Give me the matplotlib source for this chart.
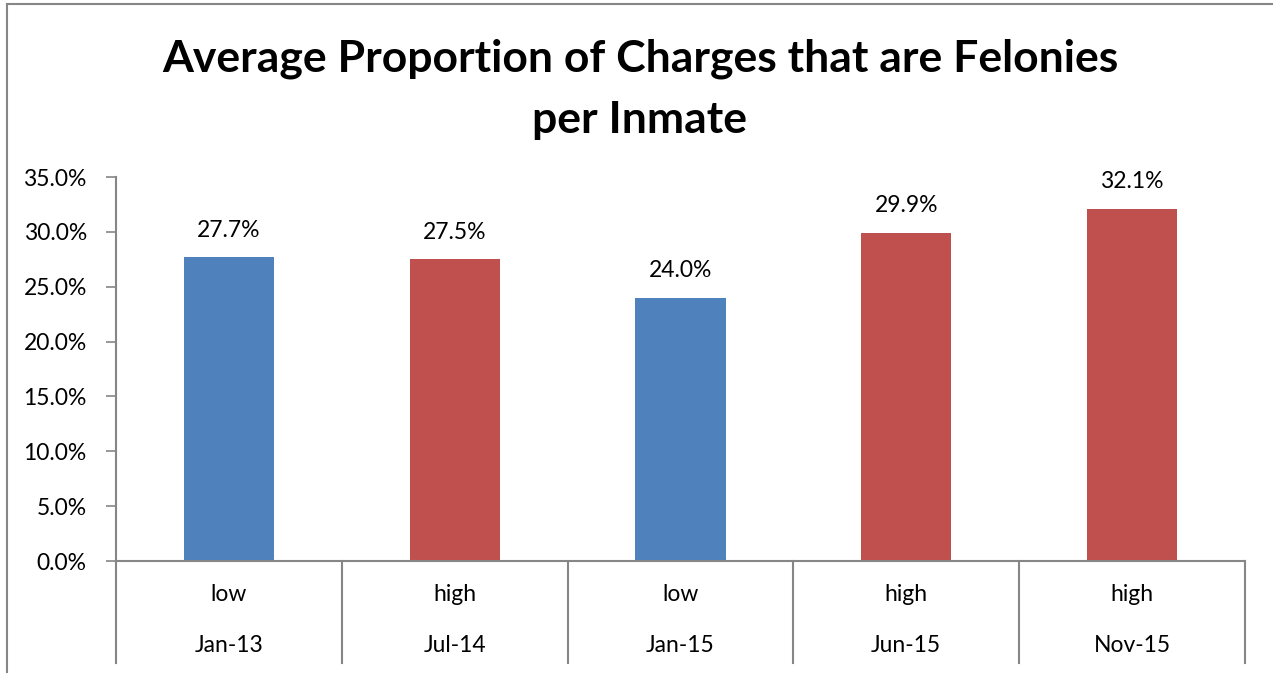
import matplotlib
matplotlib.use('Agg')
import matplotlib.pyplot as plt
import matplotlib.ticker as mticker
from matplotlib.lines import Line2D
import numpy as np

# 数据
dates = ['Jan-13', 'Jul-14', 'Jan-15', 'Jun-15', 'Nov-15']
levels = ['low', 'high', 'low', 'high', 'high']
values = [27.7, 27.5, 24.0, 29.9, 32.1]
title = 'Average Proportion of Charges that are Felonies\nper Inmate'

BLUE = '#4F81BD'
RED = '#C0504D'
GRID = '#868686'

plt.rcParams['font.family'] = ['Lato', 'DejaVu Sans']

W, H = 1273, 673
fig = plt.figure(figsize=(W / 100, H / 100), dpi=100)
fig.patch.set_facecolor('white')

# outer chart border (cut off on right/bottom)
fig.add_artist(Line2D([7 / W, 7 / W], [0, 1 - 4 / H], color=GRID, lw=1.5))
fig.add_artist(Line2D([7 / W, 1], [1 - 4 / H, 1 - 4 / H], color=GRID, lw=1.5))

fig.text(640 / W, 1 - 89 / H, title, ha='center', va='center',
         fontsize=32, fontweight='bold', linespacing=1.65)

ax = fig.add_axes([116 / W, 1 - 561 / H, (1245 - 116) / W, (561 - 177) / H])
x = np.arange(len(values))
colors = [BLUE if l == 'low' else RED for l in levels]
bars = ax.bar(x, values, width=0.4, color=colors)

ax.set_xlim(-0.5, len(values) - 0.5)
ax.set_ylim(0, 35)
ax.yaxis.set_major_locator(mticker.MultipleLocator(5))
ax.yaxis.set_major_formatter(mticker.FuncFormatter(lambda v, p: f'{v:.1f}%'))
ax.tick_params(axis='y', length=7, width=1.2, color=GRID, labelsize=16.5, pad=14)
ax.set_xticks([])

for s in ['top', 'right']:
    ax.spines[s].set_visible(False)
for s in ['left', 'bottom']:
    ax.spines[s].set_color(GRID)
    ax.spines[s].set_linewidth(1.5)

for b, v in zip(bars, values):
    ax.annotate(f'{v:.1f}%', (b.get_x() + b.get_width() / 2, v),
                xytext=(0, 19.5), textcoords='offset points',
                ha='center', va='center', fontsize=16.5)

# two-row category axis
tr = ax.get_xaxis_transform()
for i in range(len(values) + 1):
    ax.plot([i - 0.5, i - 0.5], [0, -0.266], transform=tr, color=GRID,
            lw=1.5, clip_on=False)
for i, (lv, d) in enumerate(zip(levels, dates)):
    ax.text(i, -0.088, lv, transform=tr, ha='center', va='center', fontsize=16.5)
    ax.text(i, -0.219, d, transform=tr, ha='center', va='center', fontsize=16.5)

fig.savefig('out.png', dpi=100)
